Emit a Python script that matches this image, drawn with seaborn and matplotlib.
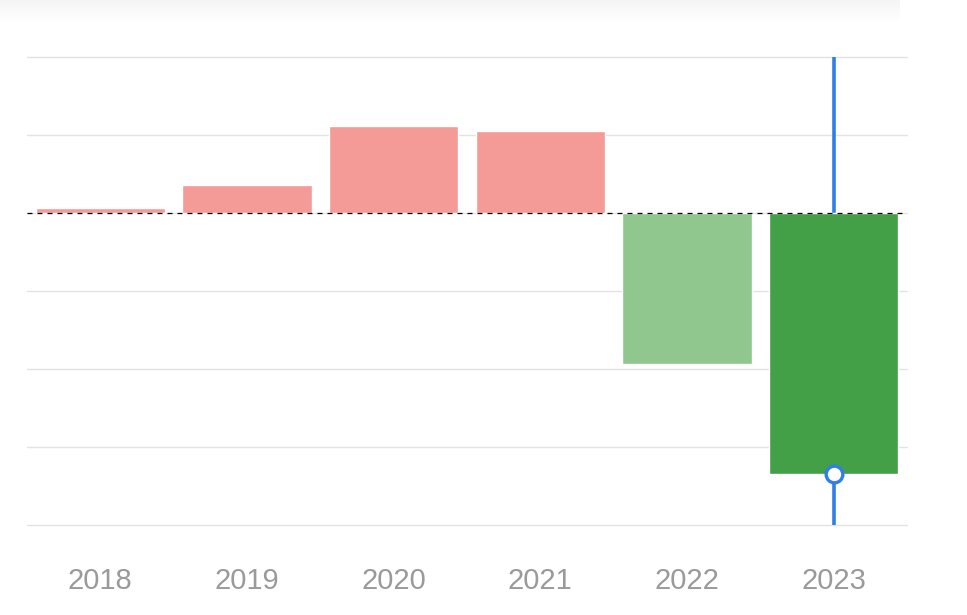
import matplotlib
matplotlib.use("Agg")
import matplotlib.pyplot as plt
import seaborn as sns
import pandas as pd
import numpy as np

years = ["2018", "2019", "2020", "2021", "2022", "2023"]
values = [0.06, 0.36, 1.12, 1.05, -1.94, -3.35]
highlight_year = "2023"

bar_colors = ["#F49A97", "#F49A97", "#F49A97", "#F49A97", "#8FC78F", "#43A047"]

sns.set_theme(style="white")
plt.rcParams["font.family"] = ["Liberation Sans", "DejaVu Sans"]

df = pd.DataFrame({"year": years, "value": values})

fig = plt.figure(figsize=(9.67, 6.15), dpi=100)
# faint top shadow band (gradient)
shade = fig.add_axes([0, 1 - 22 / 615, 900 / 967, 22 / 615], zorder=-1)
grad = np.linspace(0, 1, 50).reshape(-1, 1)
shade.imshow(grad, aspect="auto", cmap=matplotlib.colors.LinearSegmentedColormap.from_list(
    "sh", ["#f5f5f5", "#ffffff"]), extent=[0, 1, 0, 1], origin="upper")
shade.axis("off")

ax = fig.add_axes([27 / 967, 90 / 615, 880 / 967, 468 / 615])

sns.barplot(data=df, x="year", y="value", hue="year", palette=bar_colors,
            width=0.88, legend=False, ax=ax, zorder=3, saturation=1)

ax.set_ylim(-4, 2)
ax.set_yticks([-4, -3, -2, -1, 0, 1, 2])
ax.yaxis.grid(True, color="#e3e3e3", linewidth=1)
for gl in ax.get_ygridlines():
    gl.set_clip_on(False)
ax.set_axisbelow(True)
for s in ax.spines.values():
    s.set_visible(False)
ax.set_yticklabels([])
ax.tick_params(axis="y", length=0)
ax.tick_params(axis="x", length=0, pad=30, labelsize=21, labelcolor="#9a9a9a")
ax.set_xlabel("")
ax.set_ylabel("")
ax.set_xlim(-0.5, 5.5)

ax.axhline(0, color="black", linewidth=0.9, dashes=(4, 4), zorder=4)

hi = years.index(highlight_year)
ax.axvline(hi, color="#2F7FE8", linewidth=2.6, zorder=2.5)
ax.plot([hi], [values[hi]], marker="o", markersize=12, markerfacecolor="white",
        markeredgecolor="#2F7FE8", markeredgewidth=2.4, zorder=5)

fig.savefig("out.png", dpi=100)
